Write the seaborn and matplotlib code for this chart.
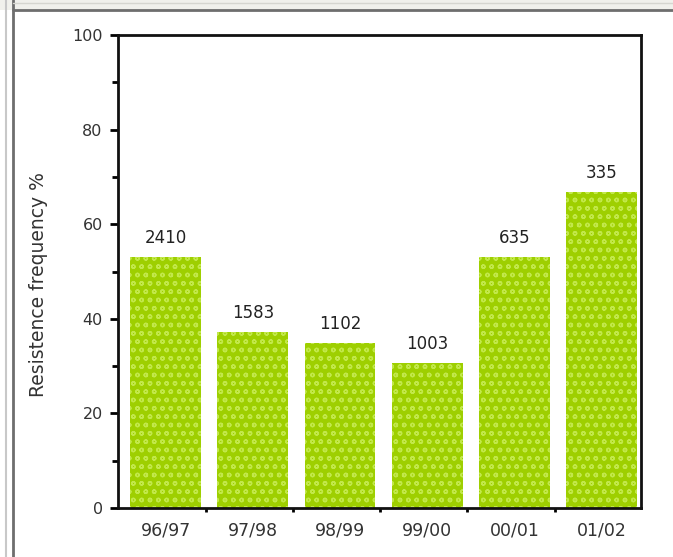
import matplotlib
matplotlib.use("Agg")
import matplotlib.pyplot as plt
from matplotlib.lines import Line2D
from matplotlib.patches import Rectangle
from matplotlib.ticker import MultipleLocator, FixedLocator
import seaborn as sns
import pandas as pd

# Resistance frequency by season, with the number of isolates tested per season
seasons = ["96/97", "97/98", "98/99", "99/00", "00/01", "01/02"]
frequency = [53.1, 37.2, 34.9, 30.7, 53.1, 66.8]
isolates = [2410, 1583, 1102, 1003, 635, 335]

df = pd.DataFrame({"season": seasons, "frequency": frequency, "isolates": isolates})

sns.set_theme(style="ticks")
plt.rcParams["font.family"] = ["DejaVu Sans"]
plt.rcParams["hatch.linewidth"] = 1.0

W, H = 673, 557
fig = plt.figure(figsize=(W / 100, H / 100), dpi=100)
fig.patch.set_facecolor("white")

ax_left, ax_right, ax_top, ax_bottom = 118, 641, 35, 508
ax = fig.add_axes([ax_left / W, 1 - ax_bottom / H,
                   (ax_right - ax_left) / W, (ax_bottom - ax_top) / H])

sns.barplot(data=df, x="season", y="frequency", color="#9ecf00",
            saturation=1, width=0.81, ax=ax)
for bar in ax.patches:
    bar.set_hatch("oo")
    bar.set_edgecolor("#c2e84a")
    bar.set_linewidth(0)

for bar, n in zip(ax.patches, df["isolates"]):
    ax.annotate(f"{n}", (bar.get_x() + bar.get_width() / 2, bar.get_height()),
                xytext=(0, 7), textcoords="offset points",
                ha="center", va="bottom", fontsize=12, color="#222222")

ax.set_ylim(0, 100)
ax.set_xlim(-0.545, 5.45)
ax.yaxis.set_major_locator(MultipleLocator(20))
ax.yaxis.set_minor_locator(MultipleLocator(10))
ax.xaxis.set_minor_locator(FixedLocator([i + 0.46 for i in range(6)]))

ax.tick_params(axis="y", which="major", direction="out", length=6, width=2,
               labelsize=11.5, pad=5, colors="black", labelcolor="#333333")
ax.tick_params(axis="y", which="minor", direction="out", length=4, width=2,
               colors="black")
ax.tick_params(axis="x", which="major", length=0, labelsize=12.5, pad=10,
               labelcolor="#333333")
ax.tick_params(axis="x", which="minor", direction="out", length=3, width=2,
               colors="black")

for side in ["left", "right", "top", "bottom"]:
    ax.spines[side].set_visible(True)
    ax.spines[side].set_linewidth(2)
    ax.spines[side].set_color("#111111")

ax.set_xlabel("")
ax.set_ylabel("Resistence frequency %", fontsize=13.5, color="#333333")
ax_w = ax_right - ax_left
ax.yaxis.set_label_coords((48 - ax_left) / ax_w, (ax_bottom - 285) / (ax_bottom - ax_top))


def px_line(x0, y0, x1, y1, color, lw):
    fig.add_artist(Line2D([x0 / W, x1 / W], [1 - y0 / H, 1 - y1 / H],
                          color=color, linewidth=lw, transform=fig.transFigure))


# window chrome around the chart
fig.add_artist(Rectangle((0, 1 - 10 / H), 1, 10 / H, transform=fig.transFigure,
                         facecolor="#f1f1ec", edgecolor="none"))
px_line(6, 0, 6, H, "#c8c8c8", 1.5)
px_line(13, 0, 13, H, "#6e6e6e", 2)
px_line(13, 10, W, 10, "#6e6e6e", 2)
px_line(13, 3, W, 3, "#d6d6d0", 1)

fig.savefig("out.png", dpi=100)
